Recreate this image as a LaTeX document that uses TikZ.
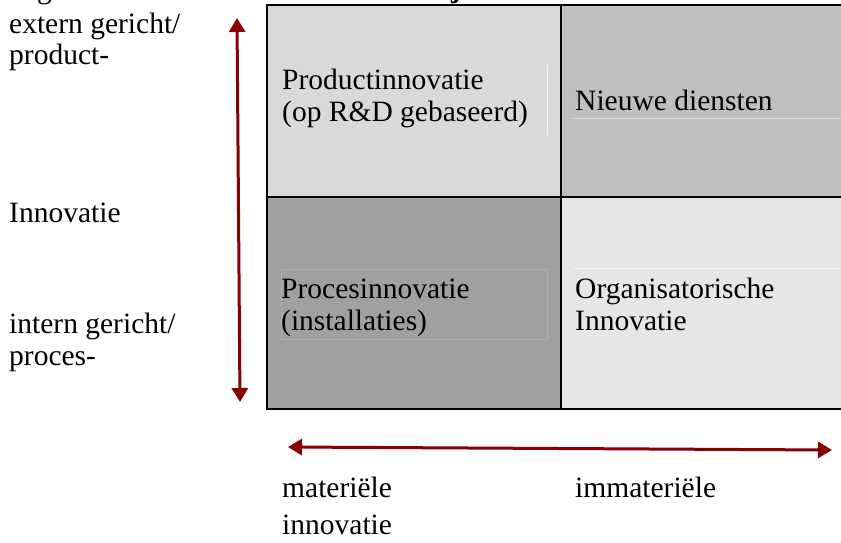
\documentclass[tikz,border=0pt]{standalone}
\usepackage{fontspec}
\setmainfont{Liberation Serif}
\usetikzlibrary{arrows.meta}
\definecolor{cellTL}{HTML}{D9D9D9}
\definecolor{cellTR}{HTML}{BFBFBF}
\definecolor{cellBL}{HTML}{A0A0A0}
\definecolor{cellBR}{HTML}{E6E6E6}
\definecolor{axisred}{HTML}{880000}
\tikzset{
  lbl/.style={inner sep=0pt, anchor=base west, font=\fontsize{29.5}{32}\selectfont},
  gridline/.style={line width=2pt, black},
  faint/.style={line width=0.8pt},
  axisarrow/.style={line width=3pt, axisred,
    {Triangle[width=16pt,length=14pt]}-{Triangle[width=16pt,length=14pt]}}
}
\begin{document}
\begin{tikzpicture}[x=1pt,y=-1pt]
\useasboundingbox (0,0) rectangle (841,542);
\clip (0,0) rectangle (841,542);
\fill[white] (0,0) rectangle (841,542);
% cells
\fill[cellTL] (267,5) rectangle (561,197);
\fill[cellTR] (561,5) rectangle (843,197);
\fill[cellBL] (267,197) rectangle (561,409);
\fill[cellBR] (561,197) rectangle (843,409);
% faint text box edges
\draw[faint, color=white!60!cellTL] (547,65) -- (547,135);
\draw[faint, color=white!40!cellTR] (573,118) -- (843,118);
\draw[faint, color=white!15!cellBL] (281,269) rectangle (547,339);
\draw[faint, color=white!50!cellBR] (573,268) -- (843,268);
% grid
\draw[gridline] (267,5) rectangle (843,409);
\draw[gridline] (561,5) -- (561,409);
\draw[gridline] (267,197) -- (843,197);
% clipped title fragments
\node[lbl] (fragg) at (37,-2) {g};
\node[lbl, font=\fontsize{29.5}{32}\selectfont\bfseries] (fragj) at (451,-3) {j};
% cell texts
\node[lbl] (pi1) at (282,89) {Productinnovatie};
\node[lbl] (pi2) at (282,121) {(op R\&D gebaseerd)};
\node[lbl] (nd) at (575,110) {Nieuwe diensten};
\node[lbl] (pr1) at (281,298) {Procesinnovatie};
\node[lbl] (pr2) at (281,330) {(installaties)};
\node[lbl] (or1) at (575,298) {Organisatorische};
\node[lbl] (or2) at (575,330) {Innovatie};
% left labels
\node[lbl] (ext1) at (9,33) {extern gericht/};
\node[lbl] (ext2) at (9,64) {product-};
\node[lbl] (inn) at (9,222) {Innovatie};
\node[lbl] (int1) at (9,333) {intern gericht/};
\node[lbl] (int2) at (9,365) {proces-};
% bottom labels
\node[lbl] (mat1) at (282,497) {materiële};
\node[lbl] (mat2) at (282,534) {innovatie};
\node[lbl] (imm) at (575,497) {immateriële};
% axes
\coordinate (vtop) at (237,18);
\coordinate (vbot) at (240,402);
\coordinate (hleft) at (288,447);
\coordinate (hright) at (832,450);
\draw[axisarrow] (vtop) -- (vbot);
\draw[axisarrow] (hleft) -- (hright);
\end{tikzpicture}
\end{document}
